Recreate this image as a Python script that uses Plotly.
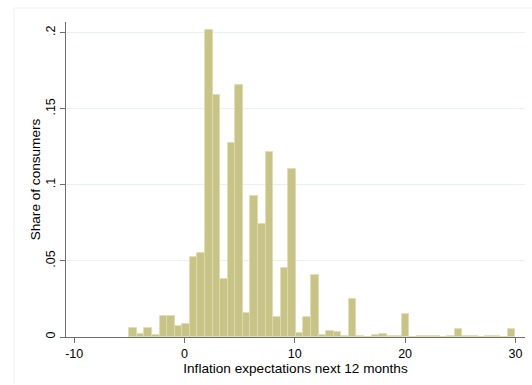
import plotly.graph_objects as go

# Histogram of one-year-ahead inflation expectations (density per bin)
bin_start = -5.0
bin_end = 30.0
n_bins = 51
density = [
    0.0057, 0.0018, 0.0057, 0.0010, 0.0136, 0.0138, 0.0074, 0.0083,
    0.0528, 0.0550, 0.2017, 0.1590, 0.0379, 0.1277, 0.1656, 0.0157,
    0.0925, 0.0740, 0.1216, 0.0134, 0.0452, 0.1104, 0.0028, 0.0134,
    0.0410, 0.0013, 0.0039, 0.0033, 0.0005, 0.0252, 0.0008, 0.0000,
    0.0012, 0.0020, 0.0005, 0.0007, 0.0153, 0.0000, 0.0005, 0.0007,
    0.0005, 0.0000, 0.0005, 0.0050, 0.0005, 0.0005, 0.0000, 0.0004,
    0.0005, 0.0000, 0.0053,
]

x_ticks = [-10, 0, 10, 20, 30]
x_tick_text = ["-10", "0", "10", "20", "30"]
y_ticks = [0, 0.05, 0.1, 0.15, 0.2]
y_tick_text = ["0", ".05", ".1", ".15", ".2"]

bin_width = (bin_end - bin_start) / n_bins
centers = [bin_start + (k + 0.5) * bin_width for k in range(n_bins)]

FONT = "Liberation Sans, Arial, Helvetica, sans-serif"
AXIS_GREY = "#6e6e6e"

fig = go.Figure(
    go.Bar(
        x=centers,
        y=density,
        width=bin_width,
        marker=dict(color="#c8c386", line=dict(color="#dedab0", width=0.8)),
        hoverinfo="skip",
    )
)

fig.update_layout(
    width=532,
    height=385,
    margin=dict(l=66, r=7, t=22, b=48),
    paper_bgcolor="white",
    plot_bgcolor="white",
    showlegend=False,
    bargap=0,
    font=dict(family=FONT, size=12, color="black"),
    shapes=[
        # faint outer graph-region frame
        dict(type="line", xref="paper", yref="paper",
             x0=-0.1133, x1=1.05, y0=1.0444, y1=1.0444,
             line=dict(color="#eeeeee", width=1)),
        dict(type="line", xref="paper", yref="paper",
             x0=-0.1133, x1=-0.1133, y0=1.0444, y1=-0.15,
             line=dict(color="#eeeeee", width=1)),
    ],
)

fig.update_xaxes(
    range=[-10.74, 30.87],
    tickvals=x_ticks,
    ticktext=x_tick_text,
    ticks="outside",
    ticklen=5,
    tickcolor=AXIS_GREY,
    showline=True,
    linecolor=AXIS_GREY,
    linewidth=1,
    showgrid=False,
    zeroline=False,
    tickfont=dict(size=12.5),
    title=dict(text="Inflation expectations next 12 months",
               font=dict(size=13.6), standoff=1),
)

fig.update_yaxes(
    range=[0, 0.207],
    tickvals=y_ticks,
    ticktext=y_tick_text,
    tickangle=-90,
    ticks="outside",
    ticklen=5,
    tickcolor=AXIS_GREY,
    showline=True,
    linecolor=AXIS_GREY,
    linewidth=1,
    showgrid=True,
    gridcolor="#eaf0f0",
    gridwidth=1,
    zeroline=False,
    tickfont=dict(size=12.5),
    title=dict(text="Share of consumers", font=dict(size=13.6), standoff=0),
)

fig.write_html("out.html")
